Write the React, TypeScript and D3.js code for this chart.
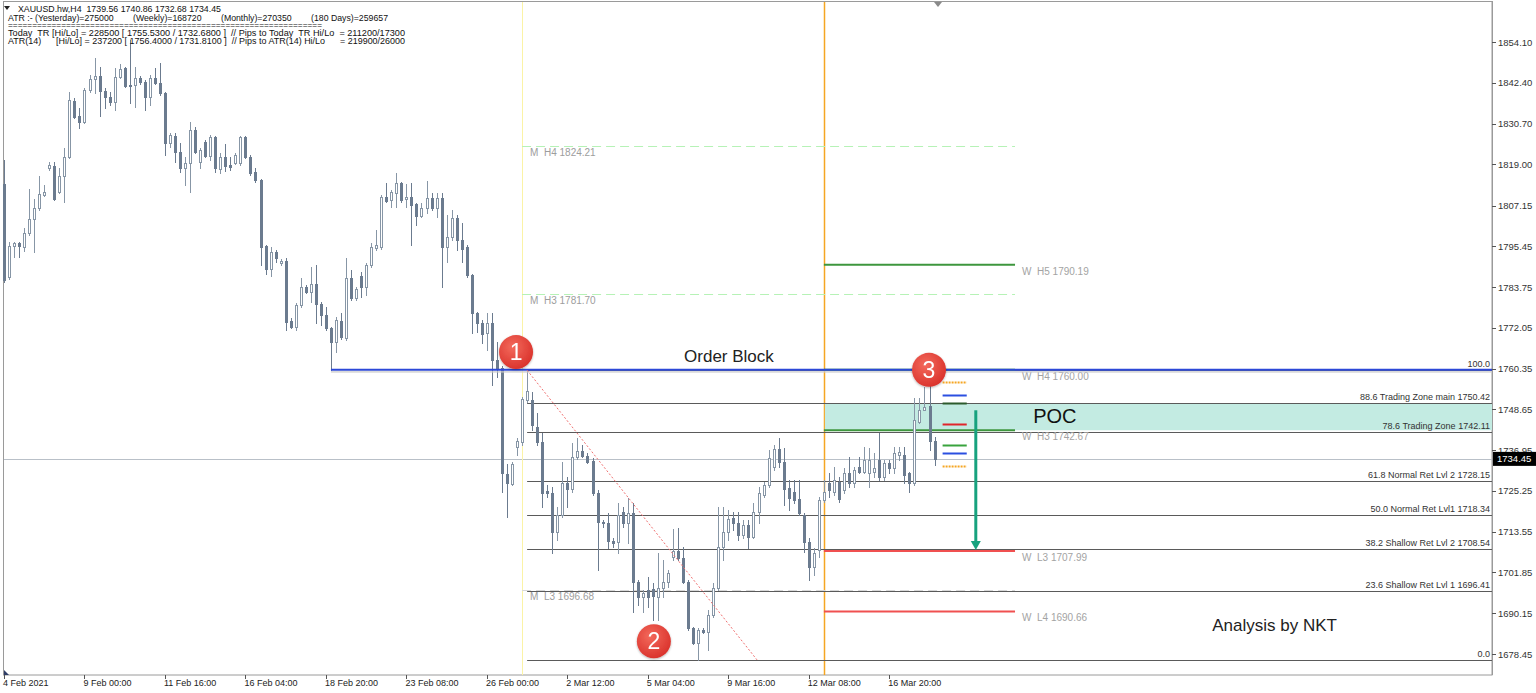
import React from 'react';
import * as d3 from 'd3';

const W = 1536;
const H = 693;

// H4 bars of XAUUSD: [open, high, low, close]
const bars: [number, number, number, number][] = [
  [1813.3, 1820.2, 1785.2, 1785.8], [1786.6, 1796.7, 1786.1, 1795.6], [1795.6, 1796.6, 1792.4, 1796.4], [1796.4, 1796.7, 1792.4, 1795.6],
  [1795.3, 1800.7, 1794.1, 1799.3], [1799.3, 1811.9, 1798.7, 1803.3], [1803.3, 1809.0, 1793.8, 1806.5], [1806.5, 1815.6, 1805.9, 1810.5],
  [1810.2, 1813.1, 1809.9, 1811.1], [1817.9, 1819.7, 1817.4, 1818.8], [1818.5, 1819.7, 1808.8, 1809.0], [1811.0, 1817.9, 1810.8, 1815.6],
  [1815.6, 1823.7, 1808.2, 1821.1], [1821.1, 1839.7, 1820.8, 1837.5], [1837.2, 1838.0, 1832.3, 1832.6], [1832.9, 1835.2, 1829.4, 1831.1],
  [1831.1, 1840.9, 1830.8, 1840.3], [1840.3, 1844.6, 1839.8, 1843.5], [1843.5, 1849.5, 1839.5, 1844.3], [1844.3, 1846.9, 1832.9, 1840.0],
  [1840.0, 1840.9, 1835.2, 1838.3], [1838.3, 1839.8, 1836.0, 1836.9], [1836.9, 1846.6, 1834.6, 1844.1], [1844.1, 1847.8, 1843.8, 1846.4],
  [1846.6, 1846.9, 1841.2, 1841.5], [1841.8, 1854.7, 1836.6, 1841.5], [1841.8, 1846.9, 1835.4, 1843.8], [1843.8, 1844.3, 1842.0, 1842.6],
  [1842.6, 1843.2, 1834.6, 1838.3], [1838.3, 1844.6, 1836.0, 1843.8], [1843.8, 1846.6, 1842.0, 1842.3], [1842.3, 1848.1, 1838.9, 1839.5],
  [1839.5, 1839.8, 1821.7, 1825.1], [1825.1, 1828.0, 1824.0, 1827.4], [1827.1, 1828.0, 1819.7, 1822.5], [1822.5, 1825.1, 1816.8, 1817.9],
  [1817.9, 1821.1, 1813.1, 1819.4], [1819.4, 1831.1, 1811.0, 1828.9], [1828.9, 1829.7, 1822.2, 1822.5], [1819.7, 1823.7, 1817.9, 1823.1],
  [1825.4, 1826.0, 1821.1, 1821.4], [1821.4, 1827.4, 1820.2, 1826.8], [1826.8, 1827.1, 1816.8, 1817.9], [1817.6, 1822.2, 1816.5, 1821.1],
  [1821.1, 1824.8, 1817.1, 1818.5], [1818.8, 1821.1, 1817.4, 1818.2], [1819.4, 1822.2, 1819.1, 1821.7], [1819.4, 1827.1, 1818.8, 1826.8],
  [1826.8, 1827.1, 1820.8, 1821.1], [1821.1, 1821.7, 1815.9, 1816.5], [1816.8, 1817.9, 1813.9, 1814.5], [1814.5, 1814.8, 1790.1, 1795.3],
  [1795.6, 1795.8, 1787.5, 1788.9], [1788.9, 1795.3, 1787.0, 1793.8], [1793.8, 1794.4, 1791.0, 1792.1], [1790.7, 1791.8, 1790.1, 1791.2],
  [1791.2, 1792.1, 1771.4, 1773.7], [1774.0, 1774.9, 1772.0, 1772.3], [1772.3, 1779.2, 1771.4, 1778.6], [1778.6, 1786.4, 1778.0, 1783.8],
  [1783.8, 1784.4, 1782.1, 1782.4], [1782.4, 1789.5, 1779.5, 1784.6], [1784.6, 1790.1, 1773.4, 1778.9], [1778.9, 1779.5, 1772.9, 1775.8],
  [1775.8, 1778.0, 1771.4, 1772.0], [1772.0, 1772.3, 1760.0, 1768.0], [1768.0, 1775.2, 1765.1, 1774.3], [1774.0, 1776.3, 1768.9, 1769.4],
  [1769.1, 1792.1, 1768.6, 1786.4], [1786.4, 1788.7, 1780.1, 1780.6], [1780.6, 1783.8, 1780.1, 1783.2], [1786.9, 1788.1, 1780.9, 1783.8],
  [1783.8, 1790.7, 1781.5, 1790.1], [1790.1, 1796.4, 1789.6, 1795.3], [1795.0, 1800.2, 1794.4, 1795.8], [1795.3, 1810.2, 1794.7, 1809.6],
  [1809.6, 1813.6, 1808.2, 1808.5], [1808.8, 1811.6, 1806.7, 1811.1], [1810.8, 1816.5, 1806.7, 1813.6], [1813.6, 1813.9, 1808.2, 1808.8],
  [1809.0, 1813.3, 1806.7, 1809.6], [1809.6, 1813.6, 1795.8, 1807.3], [1807.6, 1807.9, 1801.6, 1804.2], [1804.2, 1807.9, 1803.9, 1806.5],
  [1806.5, 1814.2, 1805.0, 1809.3], [1809.3, 1810.8, 1805.9, 1806.5], [1806.5, 1810.8, 1803.9, 1809.3], [1809.3, 1810.8, 1783.8, 1795.3],
  [1795.3, 1804.4, 1791.0, 1798.1], [1798.1, 1805.9, 1797.3, 1803.6], [1803.6, 1804.4, 1794.4, 1797.3], [1797.3, 1802.1, 1791.0, 1794.7],
  [1795.3, 1795.8, 1786.7, 1787.2], [1787.2, 1787.5, 1770.6, 1776.3], [1776.3, 1776.6, 1770.9, 1773.4], [1773.4, 1774.3, 1767.7, 1770.3],
  [1770.6, 1776.3, 1765.7, 1773.4], [1773.4, 1776.3, 1755.6, 1762.8], [1762.8, 1768.0, 1758.0, 1760.5], [1760.5, 1761.0, 1724.9, 1730.4],
  [1730.1, 1733.0, 1717.8, 1727.5], [1727.2, 1733.6, 1726.9, 1733.0], [1737.9, 1740.4, 1735.6, 1739.6], [1739.3, 1752.2, 1738.4, 1751.6],
  [1751.3, 1759.91, 1750.8, 1753.9], [1751.3, 1753.6, 1742.7, 1744.2], [1743.6, 1747.6, 1738.4, 1739.3], [1739.3, 1741.9, 1720.6, 1724.6],
  [1725.2, 1726.9, 1723.5, 1724.6], [1724.6, 1726.4, 1707.4, 1713.5], [1713.5, 1720.6, 1711.1, 1718.3], [1718.3, 1733.6, 1717.8, 1727.5],
  [1727.5, 1729.3, 1720.6, 1725.8], [1725.8, 1739.0, 1724.9, 1735.0], [1735.0, 1740.4, 1734.4, 1736.7], [1736.7, 1738.4, 1735.0, 1735.3],
  [1735.3, 1736.1, 1733.3, 1733.6], [1733.8, 1734.7, 1724.1, 1724.6], [1724.6, 1725.5, 1702.6, 1716.3], [1716.3, 1716.9, 1714.9, 1716.0],
  [1716.0, 1718.9, 1708.9, 1710.9], [1710.9, 1711.7, 1709.2, 1710.3], [1710.6, 1721.8, 1707.4, 1718.3], [1719.2, 1720.6, 1714.9, 1716.0],
  [1716.0, 1723.2, 1710.3, 1718.9], [1718.9, 1721.8, 1690.5, 1699.1], [1699.1, 1699.7, 1692.5, 1694.8], [1694.8, 1696.8, 1690.5, 1695.9],
  [1696.8, 1700.6, 1691.9, 1694.8], [1697.1, 1698.8, 1688.2, 1695.1], [1694.8, 1707.4, 1688.2, 1697.4], [1697.4, 1705.4, 1694.8, 1699.1],
  [1699.1, 1702.6, 1697.7, 1701.7], [1706.3, 1714.3, 1705.4, 1708.0], [1708.0, 1714.6, 1705.4, 1706.0], [1706.0, 1709.2, 1698.8, 1699.1],
  [1699.1, 1699.7, 1685.3, 1685.9], [1685.9, 1686.2, 1681.3, 1681.6], [1681.6, 1685.9, 1676.77, 1685.3], [1685.3, 1685.9, 1684.5, 1684.8],
  [1684.8, 1691.1, 1679.6, 1689.6], [1689.6, 1698.8, 1689.1, 1697.4], [1697.4, 1720.6, 1696.8, 1709.2], [1709.2, 1720.6, 1705.4, 1713.5],
  [1713.5, 1719.8, 1711.1, 1717.2], [1717.5, 1719.2, 1714.0, 1716.0], [1716.0, 1719.2, 1711.1, 1712.6], [1712.6, 1716.9, 1711.7, 1715.4],
  [1715.4, 1716.9, 1708.9, 1712.0], [1712.0, 1721.8, 1711.7, 1719.2], [1719.2, 1726.4, 1716.0, 1724.6], [1724.1, 1727.8, 1723.5, 1726.9],
  [1726.9, 1737.0, 1726.4, 1734.7], [1732.1, 1738.4, 1731.3, 1737.3], [1737.3, 1740.4, 1732.1, 1733.6], [1733.6, 1737.6, 1721.2, 1725.8],
  [1726.1, 1728.4, 1719.8, 1723.2], [1724.9, 1728.4, 1721.8, 1722.6], [1722.9, 1728.4, 1718.3, 1718.9], [1718.3, 1718.9, 1707.7, 1710.6],
  [1710.6, 1711.8, 1699.7, 1703.4], [1703.4, 1709.0, 1701.1, 1707.4], [1708.3, 1723.5, 1706.3, 1722.6], [1722.6, 1728.4, 1722.0, 1724.9],
  [1727.5, 1730.4, 1723.5, 1725.5], [1724.9, 1732.1, 1724.1, 1728.4], [1727.8, 1729.2, 1722.1, 1722.9], [1725.5, 1731.9, 1724.6, 1730.4],
  [1730.4, 1735.0, 1726.4, 1727.5], [1727.5, 1732.1, 1726.4, 1731.3], [1732.1, 1735.0, 1730.4, 1730.7], [1730.7, 1737.9, 1730.4, 1734.1],
  [1730.4, 1737.6, 1726.4, 1734.1], [1730.7, 1736.1, 1729.3, 1731.9], [1734.1, 1741.9, 1728.4, 1729.3], [1729.3, 1734.1, 1728.4, 1733.3],
  [1733.3, 1734.1, 1730.4, 1731.9], [1731.9, 1737.9, 1730.4, 1736.1], [1735.6, 1737.9, 1734.1, 1736.4], [1735.6, 1737.9, 1727.5, 1729.8],
  [1730.4, 1730.7, 1724.9, 1727.5], [1727.5, 1751.9, 1726.9, 1745.6], [1745.0, 1751.9, 1744.7, 1748.5], [1748.5, 1755.1, 1748.5, 1749.3],
  [1749.6, 1756.4, 1737.0, 1739.6], [1739.56, 1740.86, 1732.68, 1734.45],
];

const lastPrice = 1734.45;

// right price scale labels
const priceTicks = [1854.10, 1842.40, 1830.70, 1819.00, 1807.15, 1795.45, 1783.75, 1772.05, 1760.35, 1748.65, 1736.95, 1725.25, 1713.55, 1701.85, 1690.15, 1678.45];

// time scale labels and the bars they sit on
const timeLabels = ['4 Feb 2021', '9 Feb 00:00', '11 Feb 16:00', '16 Feb 04:00', '18 Feb 20:00', '23 Feb 08:00', '26 Feb 00:00', '2 Mar 12:00', '5 Mar 04:00', '9 Mar 16:00', '12 Mar 08:00', '16 Mar 20:00'];
const timeLabelBars = [0, 16, 32, 48, 64, 80, 96, 112, 128, 144, 160, 176];

// Fibonacci retracement of the 1759.91 → 1676.77 swing
const fibValues = [1759.91, 1750.42, 1742.11, 1728.15, 1718.34, 1708.54, 1696.41, 1676.77];
const fibTexts = ['100.0', '88.6 Trading Zone main 1750.42', '78.6 Trading Zone 1742.11', '61.8 Normal Ret Lvl 2 1728.15', '50.0 Normal Ret Lvl1 1718.34', '38.2 Shallow Ret Lvl 2 1708.54', '23.6 Shallow Ret Lvl 1 1696.41', '0.0'];

// monthly camarilla pivots
const monthlyNames = ['M  H4', 'M  H3', 'M  L3'];
const monthlyValues = [1824.21, 1781.70, 1696.68];
const monthlyColors = ['#b6f2b6', '#b6f2b6', '#d8d8d8'];

// weekly camarilla pivots
const weeklyNames = ['W  H5', 'W  H4', 'W  H3', 'W  L3', 'W  L4'];
const weeklyValues = [1790.19, 1760.00, 1742.67, 1707.99, 1690.66];
const weeklyColors = ['#3e963e', '#3e963e', '#3e963e', '#f05050', '#f05050'];

// short level markers right of the last bar
const markerValues = [1756.40, 1752.8, 1750.6, 1744.4, 1738.5, 1736.2, 1732.4];
const markerColors = ['#f5a623', '#2b4fe0', '#2c5a2c', '#e0252b', '#39a33d', '#2b4fe0', '#f5a623'];
const markerDashed = [true, false, false, false, false, false, true];

const orderBlockLevel = 1760.0;
const pocTop = 1750.42;
const pocBottom = 1742.67;
const targetLevel = 1707.99;
const arrowStart = 1748.4;

const headerLines = [
  'XAUUSD.hw,H4  1739.56 1740.86 1732.68 1734.45',
  'ATR :- (Yesterday)=275000        (Weekly)=168720        (Monthly)=270350        (180 Days)=259657',
  '=================================================================',
  'Today  TR [Hi/Lo] = 228500 [ 1755.5300 / 1732.6800 ]  // Pips to Today  TR Hi/Lo  = 211200/17300',
  'ATR(14)      [Hi/Lo] = 237200 [ 1756.4000 / 1731.8100 ]  // Pips to ATR(14) Hi/Lo      = 219900/26000',
];
const headerWidths = [203, 380, 314, 397, 397];

const FONT = '"Liberation Sans", Arial, sans-serif';
const PLOT_R = 1492;
const PLOT_B = 675;

export default function App() {
  const x = d3.scaleLinear().domain([0, 1]).range([4, 9.03]);
  const y = d3.scaleLinear().domain([1678.45, 1854.10]).range([654, 42]);

  const bullColor = '#8796a6';
  const bearColor = '#6b7b8f';
  const px = (v: number) => Math.round(v) + 0.5;

  const circles = [
    { label: '1', bar: 101.8, price: 1765.1 },
    { label: '2', bar: 129.2, price: 1682.1 },
    { label: '3', bar: 183.9, price: 1760.0 },
  ];

  const arrowX = x(193.2);

  return (
    <svg width={W} height={H} style={{ position: 'absolute', left: 0, top: 0, background: '#fff' }} fontFamily={FONT}>
      <defs>
        <radialGradient id="badge" cx="40%" cy="35%" r="70%">
          <stop offset="0%" stopColor="#f36a5c" />
          <stop offset="100%" stopColor="#d9302a" />
        </radialGradient>
        <filter id="shadow" x="-30%" y="-30%" width="160%" height="160%">
          <feDropShadow dx="0" dy="1" stdDeviation="1.2" floodColor="#000" floodOpacity="0.3" />
        </filter>
      </defs>
      <rect x={0} y={0} width={W} height={H} fill="#fff" />

      {/* chart frame */}
      <rect x={3.5} y={1.5} width={PLOT_R - 3.5} height={PLOT_B - 1.5} fill="none" stroke="#9a9a9a" />

      {/* current price line */}
      <line x1={4} x2={PLOT_R} y1={px(y(lastPrice))} y2={px(y(lastPrice))} stroke="#b9c0c8" />

      {/* period separators */}
      <line x1={px(x(103))} x2={px(x(103))} y1={2} y2={PLOT_B} stroke="#fbf3a6" />
      <line x1={px(x(163))} x2={px(x(163))} y1={2} y2={PLOT_B} stroke="#f5a623" strokeWidth={1.5} />

      {/* POC zone */}
      <rect x={x(163) + 1} y={y(pocTop)} width={PLOT_R - x(163) - 1} height={y(pocBottom) - y(pocTop)} fill="#c3ebe2" />

      {/* monthly pivots */}
      {monthlyValues.map((v, i) => (
        <g key={'m' + i}>
          <line x1={x(103)} x2={x(201)} y1={px(y(v))} y2={px(y(v))} stroke={monthlyColors[i]} strokeDasharray="9,5" />
          <text x={x(103) + 8} y={y(v) + 10} fontSize={10} fill="#9d9d9d" style={{ whiteSpace: 'pre' }}>{`${monthlyNames[i]} ${v.toFixed(2)}`}</text>
        </g>
      ))}

      {/* fib levels */}
      {fibValues.map((v, i) => (
        <g key={'f' + i}>
          <line x1={x(104)} x2={PLOT_R} y1={px(y(v))} y2={px(y(v))} stroke="#5a5a5a" />
          <text x={PLOT_R - 2} y={y(v) - 3} fontSize={9} fill="#333" textAnchor="end">{fibTexts[i]}</text>
        </g>
      ))}

      {/* weekly pivots */}
      {weeklyValues.map((v, i) => (
        <g key={'w' + i}>
          <line x1={x(163)} x2={x(201)} y1={y(v)} y2={y(v)} stroke={weeklyColors[i]} strokeWidth={2} />
          <text x={x(201) + 7} y={y(v) + 10} fontSize={10} fill="#a3a3a3" style={{ whiteSpace: 'pre' }}>{`${weeklyNames[i]} ${v.toFixed(2)}`}</text>
        </g>
      ))}

      {/* candles */}
      {bars.map(([o, h, l, c], i) => {
        const cx = Math.round(x(i));
        const bull = c >= o;
        const col = bull ? bullColor : bearColor;
        const top = Math.round(y(Math.max(o, c)));
        const bot = Math.round(y(Math.min(o, c)));
        return (
          <g key={'b' + i}>
            <line x1={cx + 0.5} x2={cx + 0.5} y1={Math.round(y(h))} y2={Math.round(y(l)) + 1} stroke={col} />
            <rect x={cx - 0.5} y={top + 0.5} width={2} height={Math.max(bot - top, 0.5)} fill={bull ? '#fff' : col} stroke={col} />
          </g>
        );
      })}

      {/* order block */}
      <line x1={x(65)} x2={PLOT_R} y1={y(orderBlockLevel) + 2} y2={y(orderBlockLevel) + 2} stroke="#c9c9c9" strokeWidth={2} opacity={0.7} />
      <line x1={x(65)} x2={PLOT_R} y1={y(orderBlockLevel)} y2={y(orderBlockLevel)} stroke="#2c48d8" strokeWidth={2} />
      <text x={x(135.2)} y={y(orderBlockLevel) - 8} fontSize={17} fill="#222">Order Block</text>

      {/* down trendline */}
      <line x1={x(104)} y1={y(1759.91)} x2={x(149.7)} y2={y(1676.77)} stroke="#f07070" strokeDasharray="2,2" />

      {/* level markers */}
      {markerValues.map((v, i) => (
        <line key={'k' + i} x1={x(186.6)} x2={x(191.4)} y1={px(y(v))} y2={px(y(v))} stroke={markerColors[i]} strokeWidth={2} strokeDasharray={markerDashed[i] ? '2,1' : undefined} />
      ))}

      {/* target arrow */}
      <line x1={arrowX} x2={arrowX} y1={y(arrowStart)} y2={y(targetLevel) - 8} stroke="#17a27e" strokeWidth={3} />
      <path d={`M${arrowX - 5},${y(targetLevel) - 10} L${arrowX + 5},${y(targetLevel) - 10} L${arrowX},${y(targetLevel) - 1} Z`} fill="#17a27e" />

      <text x={x(204.6)} y={y(pocBottom) - 7} fontSize={20} fill="#111">POC</text>
      <text x={x(240.2)} y={y(1685.0)} fontSize={17} fill="#222">Analysis by NKT</text>

      {/* numbered swing points */}
      {circles.map((cc) => (
        <g key={cc.label} filter="url(#shadow)">
          <circle cx={x(cc.bar)} cy={y(cc.price)} r={17} fill="url(#badge)" />
          <text x={x(cc.bar)} y={y(cc.price) + 8} fontSize={23} fill="#fff" textAnchor="middle">{cc.label}</text>
        </g>
      ))}

      {/* chart shift marker */}
      <path d="M934,2 L942,2 L938,7 Z" fill="#8a8a8a" />
      <path d={`M4,${PLOT_B - 5} L4,${PLOT_B} L9,${PLOT_B} Z`} fill="#2f3d66" />

      {/* header */}
      <path d="M4,6 L10,6 L7,10 Z" fill="#222" />
      {headerLines.map((t, i) => (
        <text key={'h' + i} x={i === 0 ? 18 : 8} y={[12, 21, 28, 36, 44][i]} fontSize={9} fill="#111" textLength={headerWidths[i]} lengthAdjust="spacingAndGlyphs" style={{ whiteSpace: 'pre' }}>{t}</text>
      ))}

      {/* price axis */}
      <line x1={PLOT_R + 0.5} x2={PLOT_R + 0.5} y1={1} y2={PLOT_B} stroke="#9a9a9a" />
      {priceTicks.map((v) => (
        <g key={'p' + v}>
          <line x1={PLOT_R} x2={PLOT_R + 4} y1={px(y(v))} y2={px(y(v))} stroke="#555" />
          <text x={PLOT_R + 6} y={y(v) + 3.5} fontSize={9.5} fill="#333">{v.toFixed(2)}</text>
        </g>
      ))}
      <rect x={PLOT_R + 1} y={y(lastPrice) - 7} width={43} height={14} fill="#000" />
      <text x={PLOT_R + 5} y={y(lastPrice) + 3.5} fontSize={9.5} fill="#fff">{lastPrice.toFixed(2)}</text>

      {/* time axis */}
      {timeLabelBars.map((b, i) => (
        <g key={'t' + i}>
          <line x1={px(x(b))} x2={px(x(b))} y1={PLOT_B} y2={PLOT_B + 4} stroke="#555" />
          <text x={x(b) - 1} y={PLOT_B + 11} fontSize={9} fill="#222">{timeLabels[i]}</text>
        </g>
      ))}
    </svg>
  );
}
